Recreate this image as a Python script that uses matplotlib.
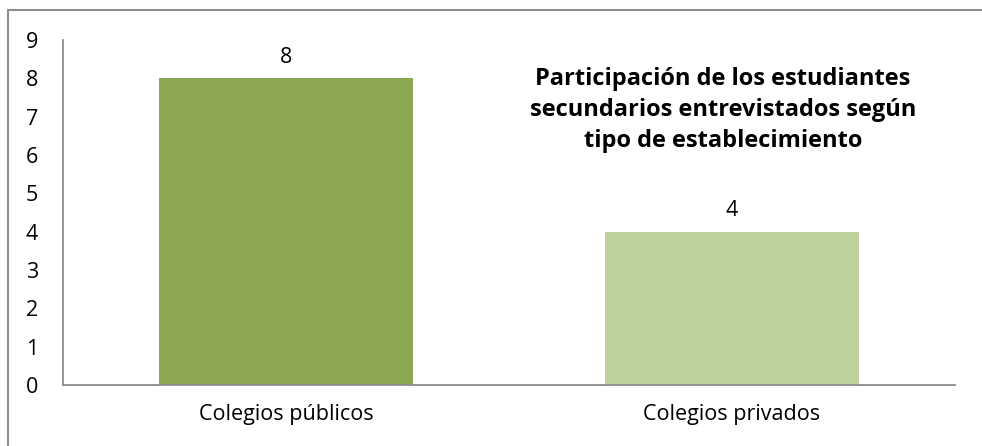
import matplotlib.pyplot as plt
from matplotlib.patches import Rectangle

categories = ["Colegios públicos", "Colegios privados"]
values = [8, 4]
bar_colors = ["#8BA752", "#BCD29A"]
title = "Participación de los estudiantes\nsecundarios entrevistados según\ntipo de establecimiento"

W, H = 982, 446
fig = plt.figure(figsize=(W / 100, H / 100), dpi=100)
plt.rcParams["font.family"] = ["Open Sans", "DejaVu Sans"]

# outer chart border (runs off the right/bottom edge of the picture)
fig.patches.append(Rectangle((8 / W, -0.1), 1.2, (H - 10) / H + 0.1,
                             transform=fig.transFigure, fill=False,
                             edgecolor="#8c8c8c", linewidth=1.5))

x0, x1 = 63, 955
y_top, y_bot = 40, 385
ax = fig.add_axes([x0 / W, 1 - y_bot / H, (x1 - x0) / W, (y_bot - y_top) / H])

pos = list(range(len(categories)))
bars = ax.bar(pos, values, width=0.57, color=bar_colors)
ax.set_xlim(-0.5, len(categories) - 0.5)
ax.set_ylim(0, 9)
ax.set_yticks(range(0, 10))
ax.set_xticks(pos)
ax.set_xticklabels(categories)
ax.tick_params(axis="both", length=0, labelsize=15.5)
ax.tick_params(axis="y", pad=18)
ax.tick_params(axis="x", pad=14)

for b, v in zip(bars, values):
    ax.text(b.get_x() + b.get_width() / 2, v + 0.28, str(v),
            ha="center", va="bottom", fontsize=15.5)

for side in ("top", "right"):
    ax.spines[side].set_visible(False)
for side in ("left", "bottom"):
    ax.spines[side].set_color("#8c8c8c")
    ax.spines[side].set_linewidth(1.3)

fig.text(723 / W, 1 - 110 / H, title, ha="center", va="center",
         fontsize=17, fontweight="bold", linespacing=1.4)

fig.savefig("out.png", dpi=100)
